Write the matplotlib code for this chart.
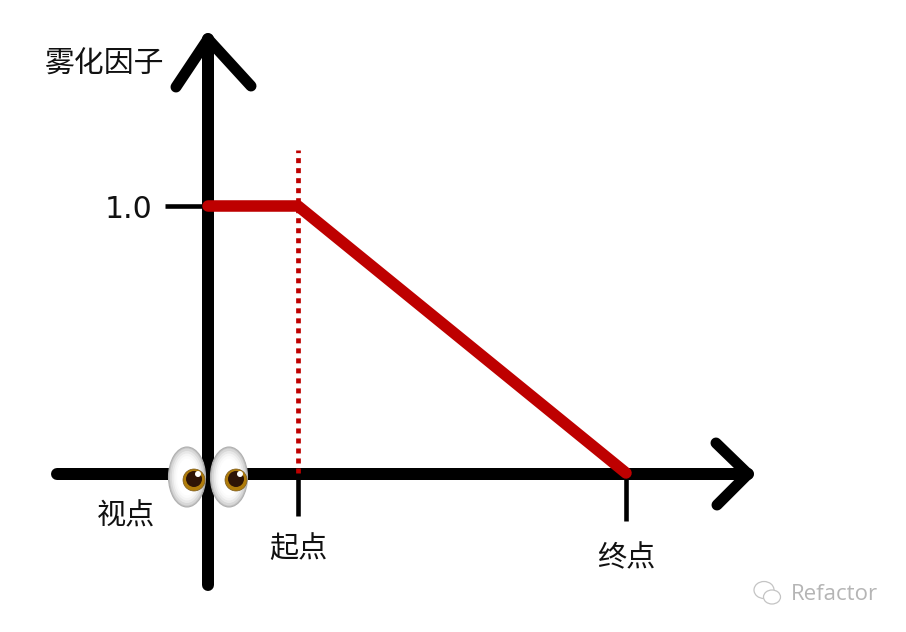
#!/usr/bin/env python3
"""Fog factor vs distance diagram, linear fog between start and end point."""
import matplotlib
matplotlib.use("Agg")
import matplotlib.pyplot as plt
from matplotlib.patches import Ellipse

plt.rcParams["font.family"] = ["Noto Sans CJK SC", "DejaVu Sans"]

# ── Data ─────────────────────────────────────────────────────────────
# x is distance from the eye (in pixels of the drawing), y is the fog factor
fog_x = [0, 90, 418]
fog_y = [1.0, 1.0, 0.0]
start_x = 90
end_x = 418
y_tick = 1.0
y_label = "雾化因子"
view_label = "视点"
start_label = "起点"
end_label = "终点"
mark = "Refactor"

BLACK = "#000000"
RED = "#BE0000"
GRAY = "#B0B0B0"

W, H = 906, 632
X0, Y0, YS = 208, 473, 267   # pixel of the origin, pixels per unit of fog


def px(x, y):
    """pixel position in the picture -> data coords"""
    return x - X0, (Y0 - y) / YS


fig = plt.figure(figsize=(W / 100, H / 100), dpi=100)
ax = fig.add_axes([0, 0, 1, 1])
ax.set_xlim(-X0, W - X0)
ax.set_ylim((Y0 - H) / YS, Y0 / YS)
ax.axis("off")


def line(p1, p2, color=BLACK, width=12, cap="round", z=2, **kw):
    a, b = px(*p1), px(*p2)
    ax.plot([a[0], b[0]], [a[1], b[1]], color=color, lw=width * 0.72,
            solid_capstyle=cap, zorder=z, **kw)


# axes with arrow heads
line((57, 474), (748, 474))
line((716, 443), (748, 474), width=11)
line((748, 474), (717, 505), width=11)
line((208, 585), (208, 39))
line((176, 87), (208, 39), width=11)
line((208, 39), (251, 86), width=11)

# ticks
ax.plot([px(165, 0)[0], 0], [y_tick, y_tick], color=BLACK, lw=3.3, solid_capstyle="butt", zorder=2)
ax.plot([start_x, start_x], [0, px(0, 516)[1]], color=BLACK, lw=3.3, solid_capstyle="butt", zorder=2)
ax.plot([end_x, end_x], [0, px(0, 521)[1]], color=BLACK, lw=3.3, solid_capstyle="butt", zorder=2)

# dotted line at start point
ax.plot([start_x, start_x], [0, px(0, 150)[1]], color=RED, lw=3.4,
        linestyle=(0, (1.06, 1.06)), dash_capstyle="butt", zorder=3)

# fog curve
ax.plot(fog_x, fog_y, color=RED, lw=8.3, solid_capstyle="round",
        solid_joinstyle="round", zorder=4)


# eyes
def eye(cx, cy, ix, iy):
    c = px(cx, cy)
    ax.add_patch(Ellipse(c, 37, 60 / YS, fc="#C4C4C4", ec=GRAY, lw=0.8, zorder=5))
    for k, shade in enumerate(["#D8D8D8", "#E8E8E8", "#F4F4F4", "#FBFBFB", "#FFFFFF"]):
        ax.add_patch(Ellipse(c, 34 - 3.5 * k, (57 - 5 * k) / YS, fc=shade, ec="none", zorder=5))
    ax.add_patch(Ellipse(px(ix, iy), 22, 22 / YS, fc="#B07C0A", ec="#7A5A20", lw=0.5, zorder=6))
    ax.add_patch(Ellipse(px(ix, iy - 1), 16, 16 / YS, fc="#2E1406", ec="none", zorder=7))
    ax.add_patch(Ellipse(px(ix + 4, iy - 6), 6, 6 / YS, fc="#FFFFFF", ec="none", zorder=8))


eye(187, 477, 194, 480)
eye(229, 477, 236, 480)

# labels
ax.text(*px(105, 64), y_label, fontsize=21.5, ha="center", va="center", color="#111111")
ax.text(*px(129, 209), f"{y_tick:.1f}", fontsize=21.5, ha="center", va="center", color="#111111",
        family="DejaVu Sans")
ax.text(*px(126, 516), view_label, fontsize=21, ha="center", va="center", color="#111111")
ax.text(*px(298, 549), start_label, fontsize=21, ha="center", va="center", color="#111111")
ax.text(*px(626, 558), end_label, fontsize=21, ha="center", va="center", color="#111111")

# watermark
ax.text(*px(834, 595), mark, fontsize=16, ha="center", va="center", color="#B5B5B5",
        family="Open Sans")
ax.add_patch(Ellipse(px(764, 590), 20, 17 / YS, fc="#FFFFFF", ec="#C4C4C4", lw=0.9, zorder=5))
ax.add_patch(Ellipse(px(772, 597), 17, 14 / YS, fc="#FFFFFF", ec="#C4C4C4", lw=0.9, zorder=6))

fig.savefig("out.png", dpi=100)
plt.close(fig)
